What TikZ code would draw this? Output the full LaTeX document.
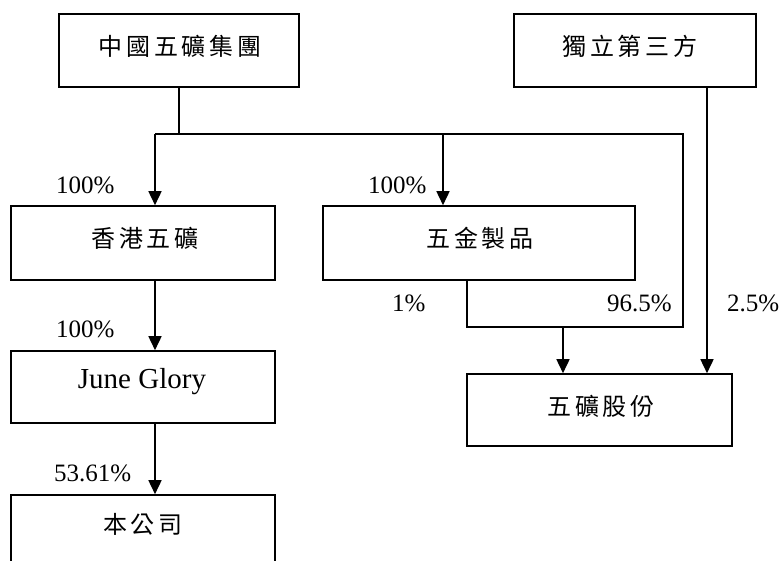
\documentclass[tikz,border=0pt]{standalone}
\usepackage{fontspec}
\setmainfont{Liberation Serif}
\newfontfamily\cjk[LetterSpace=16]{Noto Sans CJK TC}
\usetikzlibrary{arrows.meta,calc}
\begin{document}
\begin{tikzpicture}[x=1pt,y=-1pt,
  box/.style={draw,line width=1.6pt,rectangle,inner sep=0pt},
  cjktext/.style={inner sep=0pt,font=\cjk\fontsize{24}{24}\selectfont},
  pct/.style={inner sep=0pt,anchor=base west,font=\fontsize{25}{25}\selectfont},
  conn/.style={line width=1.6pt},
  arr/.style={line width=1.6pt,-{Triangle[width=13pt,length=14pt]}}]
\useasboundingbox (0,0) rectangle (781,560);
\clip (0,0) rectangle (781,560);
% boxes
\node[box,minimum width=240pt,minimum height=73pt] (cm) at (179,50.5) {};
\node[box,minimum width=242pt,minimum height=73pt] (ind) at (635,50.5) {};
\node[box,minimum width=264pt,minimum height=74pt] (hk) at (143,243) {};
\node[box,minimum width=312pt,minimum height=74pt] (wj) at (479,243) {};
\node[box,minimum width=264pt,minimum height=72pt] (jg) at (143,387) {};
\node[box,minimum width=265pt,minimum height=72pt] (wk) at (599.5,410) {};
\node[box,minimum width=264pt,minimum height=80pt] (bgs) at (143,535) {};
% texts
\node[cjktext] (tcm) at (180,46) {中國五礦集團};
\node[cjktext] (tind) at (630,46) {獨立第三方};
\node[cjktext] (thk) at (145,238) {香港五礦};
\node[cjktext] (twj) at (480,238) {五金製品};
\node[cjktext] (twk) at (601,406) {五礦股份};
\node[cjktext] (tbgs) at (143,524) {本公司};
\node[inner sep=0pt,anchor=base,font=\fontsize{29}{29}\selectfont] (tjg) at (142,388.5) {June Glory};
% percentages
\node[pct] (p1) at (56,193) {100\%};
\node[pct] (p2) at (368,193) {100\%};
\node[pct] (p3) at (392,311.5) {1\%};
\node[pct] (p4) at (607,311.5) {96.5\%};
\node[pct] (p5) at (727,311.5) {2.5\%};
\node[pct] (p6) at (56,337) {100\%};
\node[pct] (p7) at (54,481) {53.61\%};
% junction coordinates
\coordinate (j0) at (179,134);
\coordinate (j1) at (155,134);
\coordinate (j2) at (443,134);
\coordinate (j3) at (683,134);
\coordinate (j4) at (683,327);
\coordinate (j5) at (467,327);
\coordinate (j6) at (563,327);
\coordinate (k) at (707,0);
\coordinate (a) at (155,0);
% connectors
\draw[conn] (cm.south) -- (j0);
\draw[conn] (j1) -- (j3) -- (j4) -- (j5) -- (j5 |- wj.south);
\draw[arr] (j1) -- (j1 |- hk.north);
\draw[arr] (j2) -- (j2 |- wj.north);
\draw[arr] (j6) -- (j6 |- wk.north);
\draw[arr] (k |- ind.south) -- (k |- wk.north);
\draw[arr] (a |- hk.south) -- (a |- jg.north);
\draw[arr] (a |- jg.south) -- (a |- bgs.north);
\end{tikzpicture}
\end{document}
